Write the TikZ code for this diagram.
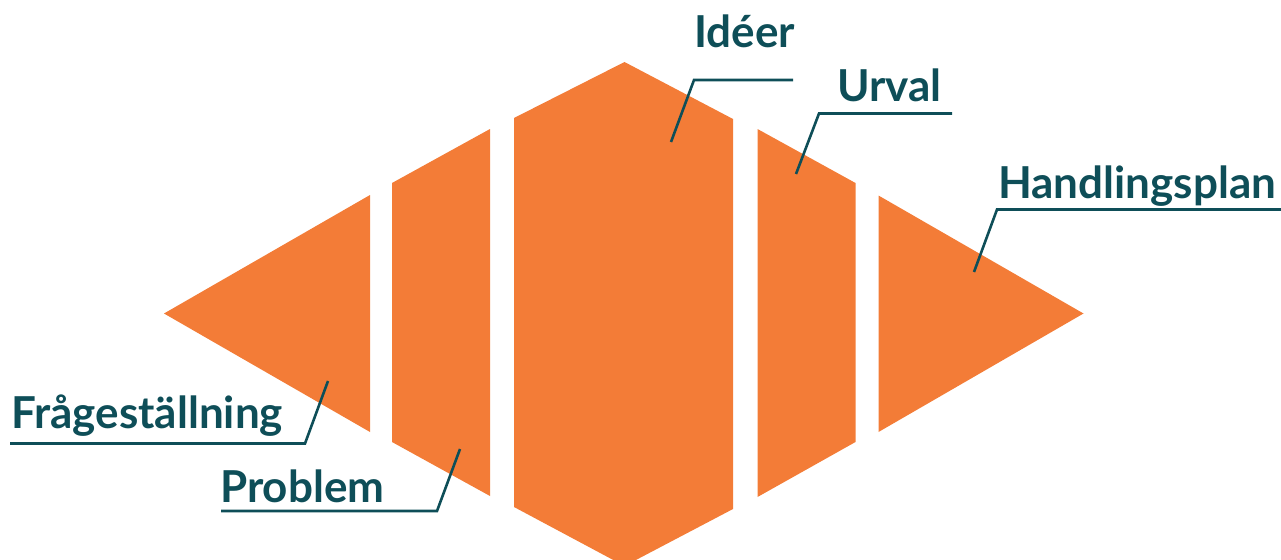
\documentclass[tikz,border=0pt]{standalone}
\usepackage{fontspec}
\setmainfont{Lato}
\definecolor{orng}{HTML}{F37C37}
\definecolor{teal2}{HTML}{0E4E58}
\begin{document}
\begin{tikzpicture}[x=1pt,y=-1pt,
  piece/.style={fill=orng,draw=none},
  lbl/.style={anchor=base west,inner sep=0pt,text=teal2,font=\bfseries\fontsize{44}{44}\selectfont},
  leader/.style={draw=teal2,line width=2.6pt,line join=miter}]
\useasboundingbox (0,0) rectangle (1281,559);
\clip (0,0) rectangle (1281,559);
% pieces
\fill[piece] (164,313.5) -- (370,195) -- (370,432) -- cycle;
\fill[piece] (392,183) -- (490,129) -- (490,496) -- (392,442) -- cycle;
\fill[piece] (514,118) -- (624.5,62) -- (733,119) -- (733,509) -- (624.5,566) -- (514,507) -- cycle;
\fill[piece] (757.5,129) -- (855.5,183) -- (855.5,442) -- (757.5,497) -- cycle;
\fill[piece] (878.5,195.5) -- (1083.5,313.5) -- (878.5,432) -- cycle;
% labels
\node[lbl] (ideer) at (694,48) {Idéer};
\node[lbl] (urval) at (837,102) {Urval};
\node[lbl] (handl) at (998,198) {Handlingsplan};
\node[lbl] (frag) at (11,428) {Frågeställning};
\node[lbl] (probl) at (220,502) {Problem};
% leader coordinates
\coordinate (i1) at (793,80); \coordinate (i2) at (694,80); \coordinate (i3) at (671,142);
\coordinate (u1) at (952,113.5); \coordinate (u2) at (819,113.5); \coordinate (u3) at (796,174);
\coordinate (h1) at (1281,209.5); \coordinate (h2) at (997,209.5); \coordinate (h3) at (974,272);
\coordinate (f1) at (10,443.5); \coordinate (f2) at (305,443.5); \coordinate (f3) at (328,381);
\coordinate (p1) at (221,511); \coordinate (p2) at (437,511); \coordinate (p3) at (460,449);
\draw[leader] (i1) -- (i2) -- (i3);
\draw[leader] (u1) -- (u2) -- (u3);
\draw[leader] (h1) -- (h2) -- (h3);
\draw[leader] (f1) -- (f2) -- (f3);
\draw[leader] (p1) -- (p2) -- (p3);
\end{tikzpicture}
\end{document}
